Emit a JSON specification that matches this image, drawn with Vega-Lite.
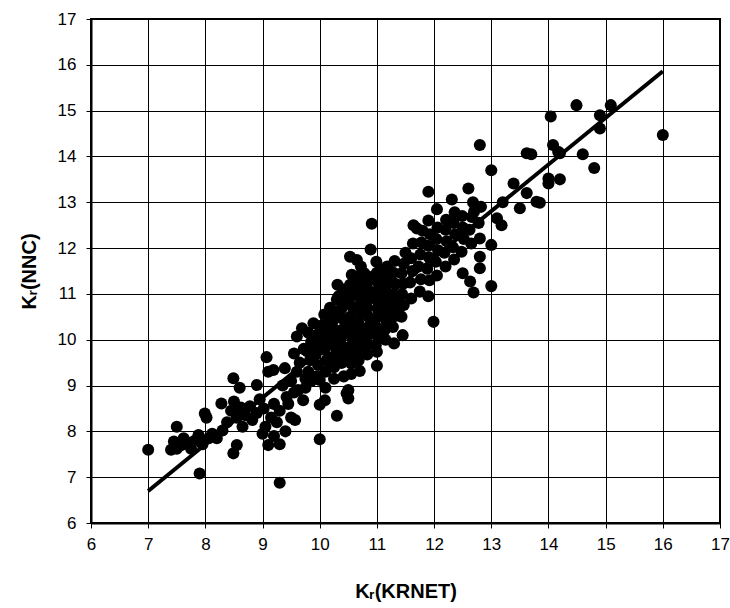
{
  "$schema": "https://vega.github.io/schema/vega-lite/v6.json",
  "autosize": {"type": "none"},
  "width": 629,
  "height": 504,
  "padding": {"left": 91, "top": 19, "right": 10, "bottom": 85},
  "background": "white",
  "config": {
    "view": {"stroke": "#000", "strokeWidth": 2},
    "font": "Liberation Sans",
    "axis": {
      "labelFont": "Liberation Sans",
      "labelFontSize": 17,
      "labelColor": "#000",
      "titleFont": "Liberation Sans",
      "titleFontSize": 20,
      "titleFontWeight": "bold",
      "titleColor": "#000",
      "gridColor": "#000",
      "gridWidth": 1,
      "gridOpacity": 1,
      "domainColor": "#000",
      "domainWidth": 2,
      "tickColor": "#000",
      "tickSize": 5,
      "tickWidth": 1
    }
  },
  "datasets": {
    "pts": [
      {"x":7.0,"y":7.6},{"x":7.4,"y":7.6},{"x":7.45,"y":7.78},{"x":7.5,"y":8.1},{"x":7.5,"y":7.62},{"x":7.58,"y":7.7},{"x":7.62,"y":7.85},{"x":7.7,"y":7.75},{"x":7.75,"y":7.62},{"x":7.82,"y":7.8},
      {"x":7.9,"y":7.08},{"x":7.88,"y":7.92},{"x":7.95,"y":7.72},{"x":7.99,"y":8.39},{"x":8.02,"y":8.3},{"x":8.06,"y":7.85},{"x":8.12,"y":7.95},{"x":8.2,"y":7.85},{"x":8.28,"y":8.61},{"x":8.3,"y":8.02},
      {"x":8.38,"y":8.2},{"x":8.45,"y":8.45},{"x":8.49,"y":9.16},{"x":8.5,"y":8.65},{"x":8.49,"y":7.52},{"x":8.55,"y":7.7},{"x":8.55,"y":8.3},{"x":8.6,"y":8.95},{"x":8.62,"y":8.52},{"x":8.65,"y":8.1},
      {"x":8.7,"y":8.35},{"x":8.78,"y":8.55},{"x":8.82,"y":8.25},{"x":8.9,"y":9.01},{"x":8.9,"y":8.4},{"x":8.95,"y":8.7},{"x":9.0,"y":7.95},{"x":9.02,"y":8.5},{"x":9.07,"y":9.62},{"x":9.1,"y":9.3},
      {"x":9.05,"y":8.1},{"x":9.1,"y":7.7},{"x":9.15,"y":8.3},{"x":9.2,"y":7.9},{"x":9.2,"y":8.6},{"x":9.19,"y":9.34},{"x":9.25,"y":8.2},{"x":9.3,"y":6.88},{"x":9.3,"y":7.72},{"x":9.3,"y":8.45},
      {"x":9.35,"y":9.0},{"x":9.39,"y":9.38},{"x":9.4,"y":8.0},{"x":9.42,"y":8.75},{"x":9.45,"y":8.6},{"x":9.5,"y":8.3},{"x":9.5,"y":9.1},{"x":9.55,"y":9.7},{"x":9.55,"y":8.85},{"x":9.57,"y":8.25},
      {"x":9.6,"y":10.07},{"x":9.6,"y":9.3},{"x":9.62,"y":8.9},{"x":9.65,"y":9.5},{"x":9.69,"y":10.25},{"x":9.71,"y":8.68},{"x":9.72,"y":9.8},{"x":9.75,"y":8.95},{"x":9.75,"y":9.15},
      {"x":9.8,"y":9.3},{"x":9.83,"y":9.55},{"x":9.78,"y":9.75},{"x":9.85,"y":9.95},{"x":9.8,"y":10.15},{"x":9.89,"y":10.36},{"x":9.85,"y":9.1},
      {"x":9.95,"y":9.2},{"x":9.97,"y":9.45},{"x":9.93,"y":9.68},{"x":9.98,"y":9.9},{"x":9.95,"y":10.1},{"x":9.99,"y":10.3},{"x":10.0,"y":9.12},{"x":10.0,"y":8.58},{"x":10.0,"y":7.83},
      {"x":10.09,"y":8.68},{"x":10.1,"y":9.3},{"x":10.12,"y":9.55},{"x":10.08,"y":9.78},{"x":10.13,"y":9.97},{"x":10.1,"y":10.17},{"x":10.12,"y":10.38},{"x":10.08,"y":10.55},{"x":10.1,"y":8.95},
      {"x":10.25,"y":9.4},{"x":10.22,"y":9.62},{"x":10.28,"y":9.82},{"x":10.24,"y":10.02},{"x":10.27,"y":10.22},{"x":10.23,"y":10.42},{"x":10.26,"y":10.62},{"x":10.3,"y":10.88},{"x":10.31,"y":11.2},{"x":10.3,"y":8.34},{"x":10.25,"y":9.15},
      {"x":10.38,"y":9.49},{"x":10.42,"y":9.66},{"x":10.4,"y":9.86},{"x":10.37,"y":10.06},{"x":10.43,"y":10.26},{"x":10.4,"y":10.46},{"x":10.38,"y":10.68},{"x":10.41,"y":10.9},{"x":10.4,"y":11.1},{"x":10.42,"y":9.2},
      {"x":10.47,"y":8.83},{"x":10.5,"y":8.9},{"x":10.5,"y":8.72},{"x":10.55,"y":9.48},{"x":10.53,"y":9.7},{"x":10.57,"y":9.9},{"x":10.54,"y":10.1},{"x":10.56,"y":10.3},{"x":10.53,"y":10.5},{"x":10.57,"y":10.72},{"x":10.55,"y":10.95},{"x":10.53,"y":11.2},{"x":10.56,"y":11.42},{"x":10.53,"y":11.81},{"x":10.55,"y":9.25},
      {"x":10.65,"y":11.74},{"x":10.7,"y":9.32},{"x":10.68,"y":9.55},{"x":10.72,"y":9.76},{"x":10.69,"y":9.96},{"x":10.71,"y":10.15},{"x":10.68,"y":10.36},{"x":10.72,"y":10.56},{"x":10.7,"y":10.76},{"x":10.68,"y":10.96},{"x":10.72,"y":11.15},{"x":10.7,"y":11.4},{"x":10.72,"y":11.6},
      {"x":10.83,"y":9.68},{"x":10.86,"y":9.9},{"x":10.84,"y":10.1},{"x":10.87,"y":10.3},{"x":10.85,"y":10.5},{"x":10.83,"y":10.7},{"x":10.86,"y":10.9},{"x":10.84,"y":11.1},{"x":10.87,"y":11.3},{"x":10.89,"y":11.97},{"x":10.91,"y":12.53},
      {"x":11.0,"y":9.43},{"x":11.0,"y":9.74},{"x":10.98,"y":9.88},{"x":11.02,"y":10.06},{"x":11.0,"y":10.26},{"x":10.98,"y":10.46},{"x":11.02,"y":10.65},{"x":11.0,"y":10.86},{"x":10.99,"y":11.05},{"x":11.02,"y":11.25},{"x":11.0,"y":11.46},{"x":10.99,"y":11.7},
      {"x":11.15,"y":10.0},{"x":11.13,"y":10.2},{"x":11.17,"y":10.4},{"x":11.14,"y":10.6},{"x":11.16,"y":10.8},{"x":11.13,"y":11.0},{"x":11.17,"y":11.2},{"x":11.15,"y":11.4},{"x":11.18,"y":11.6},
      {"x":11.3,"y":9.92},{"x":11.28,"y":10.28},{"x":11.32,"y":10.52},{"x":11.3,"y":10.78},{"x":11.28,"y":11.0},{"x":11.32,"y":11.22},{"x":11.29,"y":11.46},{"x":11.31,"y":11.72},
      {"x":11.45,"y":10.1},{"x":11.43,"y":10.5},{"x":11.47,"y":10.76},{"x":11.44,"y":11.0},{"x":11.46,"y":11.22},{"x":11.43,"y":11.45},{"x":11.47,"y":11.66},{"x":11.5,"y":11.9},
      {"x":9.9,"y":9.82},{"x":10.02,"y":10.02},{"x":10.18,"y":10.28},{"x":10.33,"y":10.52},{"x":10.48,"y":10.82},{"x":10.62,"y":11.05},{"x":10.78,"y":11.22},{"x":10.93,"y":11.38},{"x":11.08,"y":11.52},
      {"x":10.18,"y":9.45},{"x":10.33,"y":9.6},{"x":10.48,"y":9.8},{"x":10.62,"y":9.98},{"x":10.78,"y":10.2},{"x":10.93,"y":10.38},{"x":11.08,"y":10.56},{"x":11.22,"y":10.7},{"x":11.38,"y":10.9},
      {"x":10.18,"y":9.9},{"x":10.33,"y":10.15},{"x":10.48,"y":10.35},{"x":10.62,"y":10.6},{"x":10.78,"y":10.8},{"x":10.93,"y":10.98},{"x":11.08,"y":11.12},{"x":11.22,"y":11.3},
      {"x":10.18,"y":10.7},{"x":10.33,"y":10.95},{"x":10.48,"y":11.05},{"x":10.62,"y":11.3},{"x":10.78,"y":11.45},{"x":10.62,"y":9.7},{"x":10.78,"y":9.9},{"x":10.93,"y":10.15},{"x":11.22,"y":10.45},{"x":11.38,"y":10.65},
      {"x":11.6,"y":10.9},{"x":11.58,"y":11.25},{"x":11.62,"y":11.5},{"x":11.6,"y":11.78},{"x":11.63,"y":12.1},{"x":11.64,"y":12.5},{"x":11.7,"y":12.43},
      {"x":11.75,"y":11.05},{"x":11.77,"y":11.32},{"x":11.73,"y":11.6},{"x":11.76,"y":11.86},{"x":11.78,"y":12.12},{"x":11.8,"y":12.38},
      {"x":11.9,"y":10.95},{"x":11.92,"y":11.3},{"x":11.88,"y":11.55},{"x":11.91,"y":11.8},{"x":11.9,"y":12.05},{"x":11.93,"y":12.3},{"x":11.9,"y":12.6},{"x":11.9,"y":13.23},{"x":11.99,"y":10.39},
      {"x":12.05,"y":11.4},{"x":12.03,"y":11.7},{"x":12.07,"y":11.95},{"x":12.04,"y":12.2},{"x":12.06,"y":12.45},{"x":12.05,"y":12.85},
      {"x":12.2,"y":11.6},{"x":12.18,"y":11.9},{"x":12.22,"y":12.15},{"x":12.2,"y":12.4},{"x":12.21,"y":12.62},
      {"x":12.31,"y":13.06},{"x":12.35,"y":11.75},{"x":12.33,"y":12.02},{"x":12.37,"y":12.3},{"x":12.34,"y":12.55},{"x":12.36,"y":12.78},
      {"x":12.5,"y":11.45},{"x":12.48,"y":11.92},{"x":12.52,"y":12.2},{"x":12.5,"y":12.45},{"x":12.49,"y":12.7},
      {"x":12.6,"y":13.3},{"x":12.63,"y":11.27},{"x":12.69,"y":11.03},{"x":12.65,"y":12.1},{"x":12.62,"y":12.4},{"x":12.66,"y":12.68},{"x":12.68,"y":13.0},{"x":12.7,"y":12.8},
      {"x":12.8,"y":11.81},{"x":12.8,"y":11.56},{"x":12.8,"y":12.21},{"x":12.78,"y":12.55},{"x":12.82,"y":12.9},{"x":12.8,"y":14.25},
      {"x":13.0,"y":13.7},{"x":13.0,"y":12.07},{"x":13.0,"y":11.17},{"x":13.1,"y":12.65},{"x":13.18,"y":12.5},{"x":13.2,"y":13.0},{"x":13.39,"y":13.41},{"x":13.5,"y":12.87},{"x":13.62,"y":13.2},{"x":13.79,"y":13.01},
      {"x":13.62,"y":14.07},{"x":13.7,"y":14.05},{"x":13.85,"y":12.99},{"x":14.0,"y":13.52},{"x":14.0,"y":13.41},{"x":14.2,"y":13.5},{"x":14.17,"y":14.1},{"x":14.04,"y":14.87},{"x":14.08,"y":14.25},{"x":14.2,"y":14.07},
      {"x":14.6,"y":14.05},{"x":14.8,"y":13.75},{"x":14.49,"y":15.12},{"x":15.09,"y":15.12},{"x":14.9,"y":14.9},{"x":14.9,"y":14.61},{"x":16.0,"y":14.47}
    ],
    "fit": [
      {"x":7.0,"y":6.7},{"x":16.0,"y":15.86}
    ]
  },
  "layer": [
    {
      "data": {"name": "pts"},
      "mark": {"type": "point", "filled": true, "shape": "circle", "size": 145, "color": "#000", "opacity": 1},
      "encoding": {
        "x": {"field": "x", "type": "quantitative", "scale": {"domain": [6, 17], "nice": false, "zero": false},
          "axis": {"values": [6,7,8,9,10,11,12,13,14,15,16,17], "format": "d", "title": "Kᵣ(KRNET)", "grid": true, "labelPadding": 8, "titlePadding": 29, "labelFlush": false}},
        "y": {"field": "y", "type": "quantitative", "scale": {"domain": [6, 17], "nice": false, "zero": false},
          "axis": {"values": [6,7,8,9,10,11,12,13,14,15,16,17], "format": "d", "title": "Kᵣ(NNC)", "grid": true, "labelPadding": 10, "titlePadding": 18, "labelFlush": false}}
      }
    },
    {
      "data": {"name": "fit"},
      "mark": {"type": "line", "color": "#000", "strokeWidth": 4},
      "encoding": {
        "x": {"field": "x", "type": "quantitative"},
        "y": {"field": "y", "type": "quantitative"}
      }
    }
  ]
}
